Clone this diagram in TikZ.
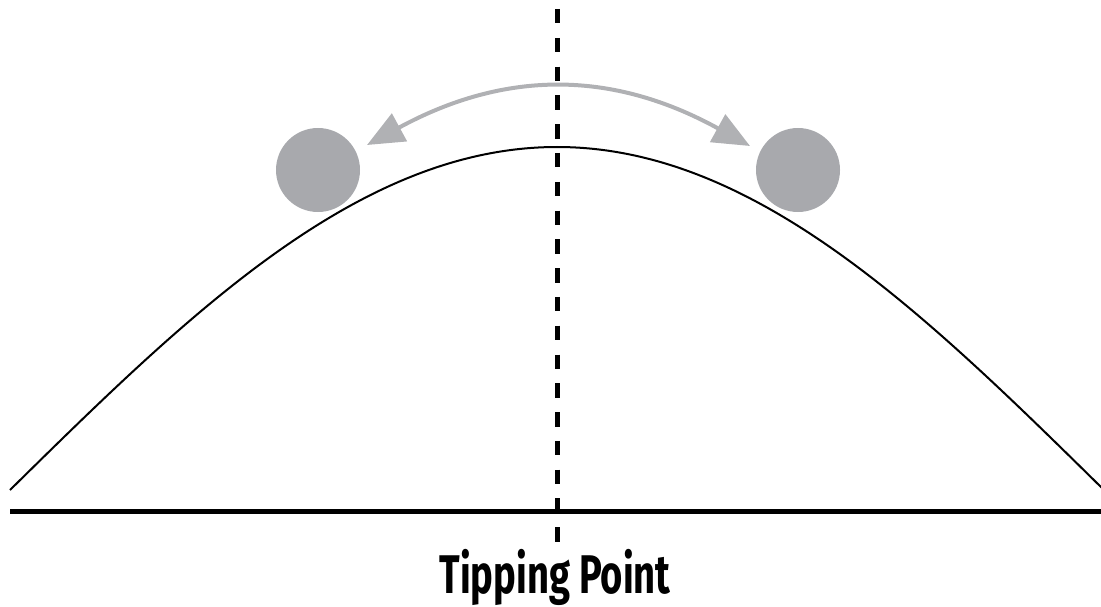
\documentclass[tikz,border=0pt]{standalone}
\usepackage{fontspec}
\newfontfamily\labelfont[FakeStretch=0.7]{Fira Sans}
\usetikzlibrary{arrows.meta}
\definecolor{ballgray}{RGB}{168,169,173}
\definecolor{arrowgray}{RGB}{176,177,180}
\tikzset{
  ball/.style={circle, fill=ballgray, minimum size=84*0.02cm, inner sep=0pt},
  swing/.style={draw=arrowgray, line width=4*0.02cm,
    {Triangle[length=0.74cm,width=0.62cm]}-{Triangle[length=0.74cm,width=0.62cm]}},
}
\begin{document}
\begin{tikzpicture}[x=0.02cm,y=0.02cm]
\useasboundingbox (0,0) rectangle (1101,606);

% ground line
\draw[line width=5*0.02cm] (10,95) -- (1101,95);

% the hill
\draw[line width=2*0.02cm] (10,116) sin (557,459) cos (1104,116);

% tipping point marker
\draw[line width=5*0.02cm, dash pattern=on 0.29cm off 0.286cm] (557,597) -- (557,63);

% balls on either side
\node[ball] (ballL) at (318,436) {};
\node[ball] (ballR) at (798,436) {};

\coordinate (tipL) at (367,461);
\coordinate (tipR) at (750,460);
\draw[swing] (tipL) .. controls (505,536) and (612,536) .. (tipR);

\node[anchor=base, inner sep=0pt] (label) at (555,13)
  {\labelfont\bfseries\fontsize{31}{34}\selectfont Tipping Point};
\end{tikzpicture}
\end{document}
